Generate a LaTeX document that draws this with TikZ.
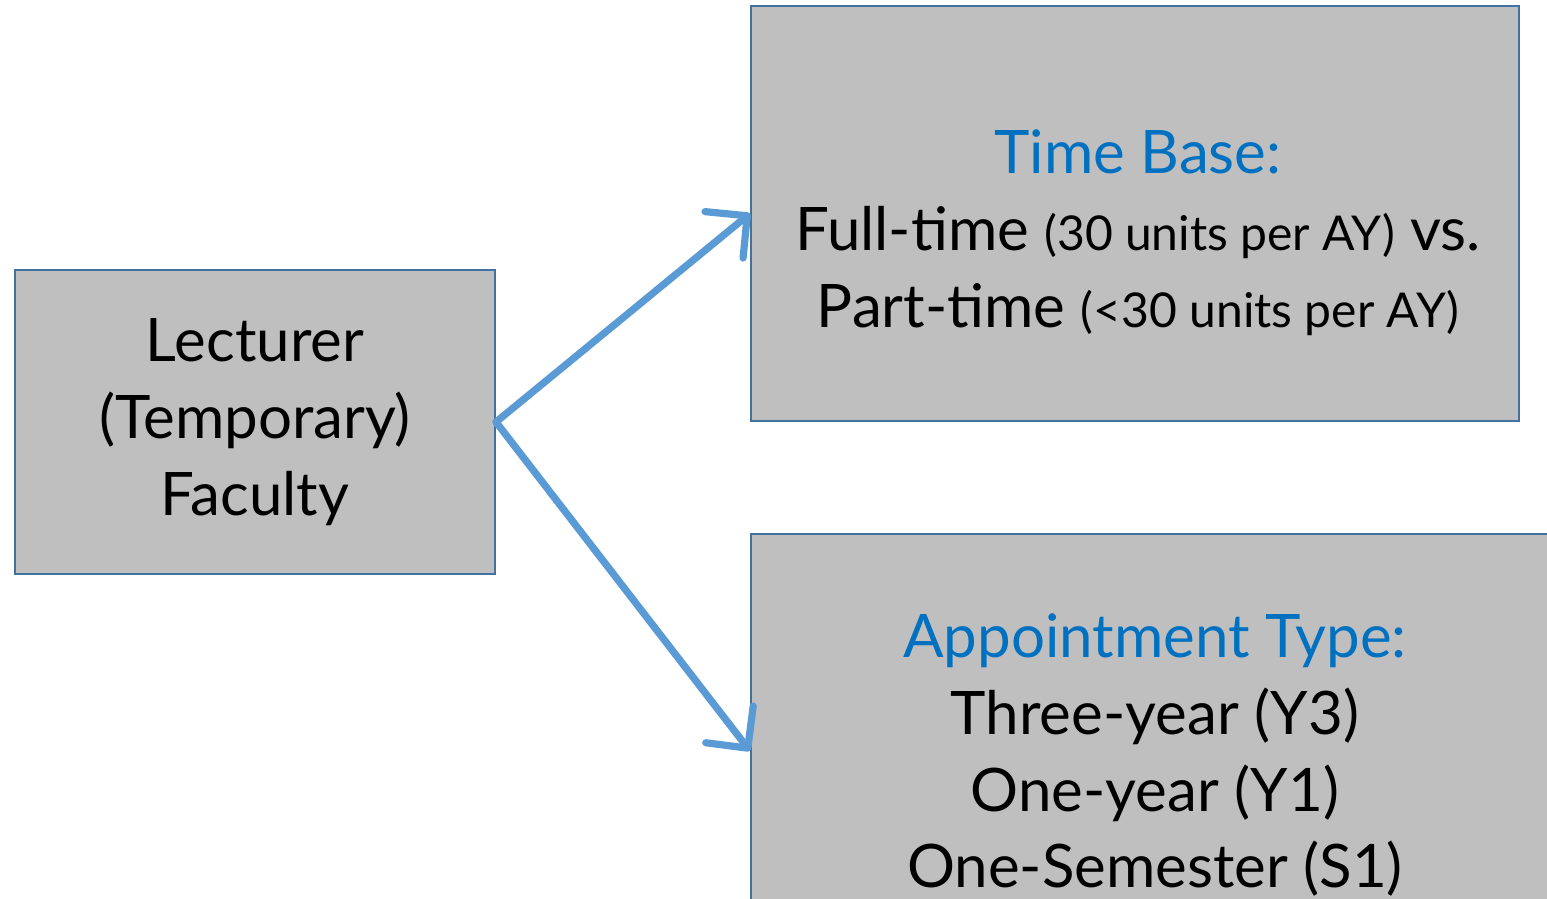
\documentclass[tikz,border=0pt]{standalone}
\usepackage{fontspec}
\setmainfont{Lato}
\usetikzlibrary{arrows.meta}
\definecolor{boxfill}{HTML}{BFBFBF}
\definecolor{boxline}{HTML}{41719C}
\definecolor{arrowblue}{HTML}{5B9BD5}
\definecolor{headblue}{HTML}{0070C0}
\newcommand{\bigtxt}{\fontsize{30}{38.5}\selectfont}
\newcommand{\smtxt}{\fontsize{24}{30}\selectfont}
\tikzset{
  box/.style={draw=boxline,line width=1pt,fill=boxfill,inner sep=0pt},
  txt/.style={align=center,font=\bigtxt,text=black},
  link/.style={draw=arrowblue,line width=3.6pt,line cap=round,
    -{Straight Barb[length=15pt,width=30pt,line width=3.6pt,round]}},
}
\begin{document}
\begin{tikzpicture}[x=0.5pt,y=-0.5pt]
    \useasboundingbox (0,0) rectangle (1547,899);
    \clip (0,0) rectangle (1547,899);
    \node [box,minimum width=240pt,minimum height=152pt] (L) at (255,422) {};
    \node [box,minimum width=384pt,minimum height=207.5pt] (T) at (1135,213.5) {};
    \node [box,minimum width=404.5pt,minimum height=217pt] (A) at (1155.5,751) {};
    \node [txt] (Lt) at (255,422) {Lecturer\\(Temporary)\\Faculty};
    \node [txt] (Tt) at (1138,233) {\textcolor{headblue}{Time Base:}\\
      Full-time {\smtxt(30 units per AY)} vs.\\
      Part-time {\smtxt(<30 units per AY)}};
    \node [txt] (At) at (1155,755) {\textcolor{headblue}{Appointment Type:}\\
      Three-year (Y3)\\One-year (Y1)\\One-Semester (S1)};
    \draw [link] (L.east) -- (T.west);
    \draw [link] (L.east) -- (A.west);
  \end{tikzpicture}
\end{document}
